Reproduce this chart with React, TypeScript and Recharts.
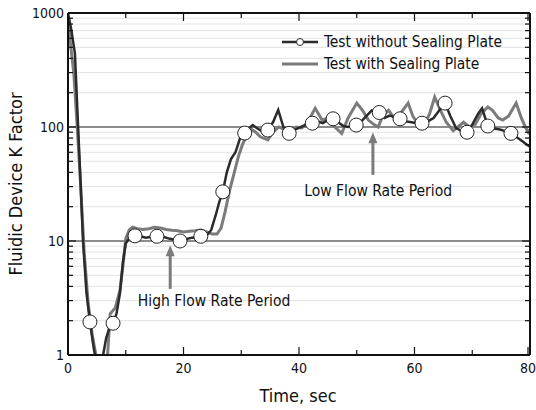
import React from 'react';
import {
  LineChart,
  Line,
  XAxis,
  YAxis,
  CartesianGrid,
  ReferenceLine,
  ReferenceDot,
} from 'recharts';

const FONT = "'DejaVu Sans Condensed', 'DejaVu Sans', sans-serif";

// dark curve, test without sealing plate (time in s, K factor)
const darkTime = [
  0, 0.6, 1.2, 1.6, 2.1, 2.6, 3.2, 4.4, 4.9, 5.5, 6.0, 6.6, 7.2, 8.4, 9.0, 9.5,
  10.0, 10.7, 12.5, 13.5, 14.5, 16.5, 17.5, 18.5, 20.5, 21.5, 24.0, 24.8, 25.6,
  26.2, 27.5, 28.2, 29.0, 29.8, 31.4, 32.0, 32.8, 33.6, 35.5, 36.4, 37.3, 39.3,
  40.3, 41.3, 43.2, 44.1, 45.0, 46.8, 47.7, 48.5, 50.8, 51.7, 52.6, 54.8, 55.7,
  56.6, 58.5, 59.5, 60.4, 62.3, 63.3, 64.3, 66.2, 67.2, 68.2, 70.0, 71.0, 71.7,
  73.8, 74.8, 75.7, 77.6, 78.5, 79.3, 80,
];
const darkK = [
  1000, 700, 440, 150, 40, 10, 3.5, 1.2, 0.85, 0.7, 0.95, 1.4, 1.75, 2.3, 3.5,
  6.5, 9.5, 10.8, 11.0, 10.7, 10.9, 10.9, 10.5, 10.2, 10.4, 10.7, 11.2, 12.5, 17,
  22, 40, 52, 60, 80, 98, 104, 97, 92, 110, 141, 100, 95, 100, 105, 112, 108,
  115, 110, 102, 100, 112, 125, 140, 120, 126, 122, 112, 110, 108, 112, 120, 140,
  125, 98, 92, 105, 130, 146, 97, 95, 92, 82, 76, 71, 67,
];

// circle markers on the dark curve
const markTime = [
  3.8, 7.8, 11.6, 15.4, 19.4, 23.0, 26.8, 30.6, 34.6, 38.3, 42.3, 45.9, 49.9,
  53.9, 57.5, 61.3, 65.3, 69.1, 72.7, 76.7,
];
const markK = [
  1.95, 1.9, 11.1, 11, 10, 11, 27, 88.5, 94, 88, 108, 118, 104, 134, 118, 108,
  162, 90, 102, 88,
];

// gray curve, test with sealing plate
const grayTime = [
  0, 0.4, 1.0, 1.6, 2.2, 2.8, 3.5, 4.2, 5.0, 5.6, 6.2, 6.8, 7.3, 8.2, 9.0, 9.5,
  10.0, 10.6, 11.2, 12.0, 13.0, 14.0, 15.0, 16.0, 17.0, 18.0, 19.0, 20.0, 21.0,
  22.0, 23.0, 24.0, 25.0, 25.8, 26.5, 27.2, 28.0, 28.8, 29.5, 30.2, 31.0, 31.8,
  32.5, 33.3, 34.6, 35.5, 36.5, 37.5, 38.5, 39.5, 40.5, 41.5, 42.8, 44.0, 45.0,
  46.2, 47.4, 48.5, 50.0, 51.0, 52.0, 53.0, 53.7, 54.5, 55.5, 56.5, 57.5, 58.9,
  59.7, 60.4, 61.5, 62.6, 63.5, 64.5, 65.5, 66.7, 67.5, 68.5, 69.5, 70.5, 71.5,
  72.7, 73.5, 74.5, 75.3, 76.3, 77.6, 78.5, 79.2, 79.7, 80,
];
const grayK = [
  900, 550, 300, 100, 30, 8, 2.8, 1.5, 0.9, 0.7, 0.6, 0.9, 2.3, 2.6, 3.7, 6,
  10.5, 12.5, 13.2, 12.8, 12.6, 12.8, 13.2, 13.0, 12.6, 12.4, 12.3, 12.0, 12.2,
  12.3, 12.5, 12.0, 11.5, 11.5, 13, 18, 28, 40, 55, 70, 85, 95, 90, 82, 77, 90,
  100, 95, 92, 100, 98, 110, 146, 115, 120, 100, 88, 120, 162, 140, 115, 105, 100,
  125, 140, 120, 130, 162, 125, 110, 100, 130, 183, 140, 110, 93, 100, 110, 100,
  105, 130, 150, 140, 120, 115, 125, 162, 120, 100, 90, 95,
];

const yTicks = [
  1, 2, 3, 4, 5, 6, 7, 8, 9, 10, 20, 30, 40, 50, 60, 70, 80, 90, 100, 200, 300,
  400, 500, 600, 700, 800, 900, 1000,
];
const yLabels = [1, 10, 100, 1000];
const xTicks = [0, 10, 20, 30, 40, 50, 60, 70, 80];
const xLabels = [0, 20, 40, 60, 80];

const seriesNames = ['Test without Sealing Plate', 'Test with Sealing Plate'];
const DARK = '#2b2b2b';
const GRAY = '#7b7b7b';

const darkData = darkTime
  .map((t, i) => ({ t, k: darkK[i] }))
  .concat(markTime.map((t, i) => ({ t, k: markK[i] })))
  .sort((a, b) => a.t - b.t);
const grayData = grayTime.map((t, i) => ({ t, k: grayK[i] }));
const markData = markTime.map((t, i) => ({ t, k: markK[i] }));

const LeftTick = (props: any) => {
  const { x, y, payload } = props;
  const ax = x + 4;
  const major = yLabels.includes(payload.value);
  return (
    <g>
      <line x1={ax} x2={ax + (major ? 8 : 5)} y1={y} y2={y} stroke="#111" strokeWidth={1.2} />
      {major && (
        <text x={ax - 4} y={y} dy="0.36em" textAnchor="end" fontSize={14} fontFamily={FONT} fill="#111">
          {payload.value}
        </text>
      )}
    </g>
  );
};

const RightTick = (props: any) => {
  const { x, y, payload } = props;
  const ax = x - 4;
  const major = yLabels.includes(payload.value);
  return <line x1={ax} x2={ax - (major ? 8 : 5)} y1={y} y2={y} stroke="#111" strokeWidth={1.2} />;
};

const BottomTick = (props: any) => {
  const { x, y, payload } = props;
  const ay = y - 4;
  const major = xLabels.includes(payload.value);
  return (
    <g>
      <line x1={x} x2={x} y1={ay} y2={ay - (major ? 8 : 5)} stroke="#111" strokeWidth={1.2} />
      {major && (
        <text x={x} y={ay + 18} textAnchor="middle" fontSize={14} fontFamily={FONT} fill="#111">
          {payload.value}
        </text>
      )}
    </g>
  );
};

const TopTick = (props: any) => {
  const { x, y, payload } = props;
  const ay = y + 4;
  const major = xLabels.includes(payload.value);
  return <line x1={x} x2={x} y1={ay} y2={ay + (major ? 8 : 5)} stroke="#111" strokeWidth={1.2} />;
};

const Arrow = (props: any) => {
  const { x1, y1, y2 } = props;
  const top = Math.min(y1, y2);
  const bottom = Math.max(y1, y2);
  return (
    <g>
      <line x1={x1} x2={x1} y1={bottom} y2={top + 10} stroke={GRAY} strokeWidth={3} />
      <polygon points={`${x1 - 4.5},${top + 11} ${x1 + 4.5},${top + 11} ${x1},${top}`} fill={GRAY} />
    </g>
  );
};

const ChartLegend = () => (
  <svg
    width={250}
    height={46}
    style={{ position: 'absolute', left: 278, top: 32, display: 'block' }}
  >
    <line x1={4} x2={40} y1={10} y2={10} stroke={DARK} strokeWidth={2.5} />
    <circle cx={22} cy={10} r={3.5} fill="#fff" stroke={DARK} strokeWidth={1} />
    <text x={46} y={15} fontSize={15.4} fontFamily={FONT} fill="#111">
      {seriesNames[0]}
    </text>
    <line x1={4} x2={40} y1={32} y2={32} stroke={GRAY} strokeWidth={3} />
    <text x={46} y={37} fontSize={15.4} fontFamily={FONT} fill="#111">
      {seriesNames[1]}
    </text>
  </svg>
);

const labelStyle = { fontSize: 15.5, fontFamily: FONT, fill: '#111' };

const App = () => {
  return (
    <div style={{ position: 'absolute', left: 0, top: 0, width: 536, height: 410, background: '#fff', overflow: 'hidden' }}>
      <LineChart
        width={536}
        height={410}
        margin={{ top: 0, right: 0, left: 0, bottom: 0 }}
        style={{ backgroundColor: 'white' }}
      >
        <CartesianGrid vertical={false} stroke="#e2e2e2" strokeWidth={1} />
        <XAxis
          dataKey="t"
          type="number"
          domain={[0, 80]}
          ticks={xTicks}
          allowDataOverflow
          height={55}
          tickSize={0}
          tickMargin={4}
          tickLine={false}
          tick={<BottomTick />}
          axisLine={{ stroke: '#111', strokeWidth: 2 }}
        />
        <XAxis
          xAxisId="top"
          orientation="top"
          dataKey="t"
          type="number"
          domain={[0, 80]}
          ticks={xTicks}
          allowDataOverflow
          height={13}
          tickSize={0}
          tickMargin={4}
          tickLine={false}
          tick={<TopTick />}
          axisLine={{ stroke: '#111', strokeWidth: 2 }}
        />
        <YAxis
          scale="log"
          domain={[1, 1000]}
          ticks={yTicks}
          allowDataOverflow
          width={68}
          tickSize={0}
          tickMargin={4}
          tickLine={false}
          tick={<LeftTick />}
          axisLine={{ stroke: '#111', strokeWidth: 2 }}
          interval={0}
        />
        <YAxis
          yAxisId="right"
          orientation="right"
          scale="log"
          domain={[1, 1000]}
          ticks={yTicks}
          allowDataOverflow
          width={6}
          tickSize={0}
          tickMargin={4}
          tickLine={false}
          tick={<RightTick />}
          axisLine={{ stroke: '#111', strokeWidth: 2 }}
          interval={0}
        />
        <ReferenceLine y={10} stroke="#6a6a6a" strokeWidth={1.5} />
        <ReferenceLine y={100} stroke="#6a6a6a" strokeWidth={1.5} />
        <Line
          data={grayData}
          dataKey="k"
          type="linear"
          stroke={GRAY}
          strokeWidth={3}
          dot={false}
          name={seriesNames[1]}
          isAnimationActive={false}
        />
        <Line
          data={darkData}
          dataKey="k"
          type="linear"
          stroke={DARK}
          strokeWidth={2.5}
          dot={false}
          name={seriesNames[0]}
          isAnimationActive={false}
        />
        <Line
          data={markData}
          dataKey="k"
          stroke="none"
          legendType="none"
          dot={{ r: 7, fill: '#fff', stroke: '#222', strokeWidth: 1 }}
          isAnimationActive={false}
        />
        <ReferenceLine
          segment={[
            { x: 17.7, y: 3.8 },
            { x: 17.7, y: 9.2 },
          ]}
          shape={<Arrow />}
        />
        <ReferenceLine
          segment={[
            { x: 52.8, y: 38 },
            { x: 52.8, y: 90 },
          ]}
          shape={<Arrow />}
        />
        <ReferenceDot
          x={25.3}
          y={3.0}
          r={0}
          stroke="none"
          label={{ value: 'High Flow Rate Period', position: 'center', ...labelStyle }}
        />
        <ReferenceDot
          x={53.7}
          y={28}
          r={0}
          stroke="none"
          label={{ value: 'Low Flow Rate Period', position: 'center', ...labelStyle }}
        />
      </LineChart>
      <ChartLegend />
      <div
        style={{
          position: 'absolute',
          left: 0,
          width: 596,
          top: 385,
          textAlign: 'center',
          fontFamily: FONT,
          fontSize: 18,
          color: '#111',
        }}
      >
        Time, sec
      </div>
      <div
        style={{
          position: 'absolute',
          left: 15,
          top: 184,
          transform: 'translate(-50%, -50%) rotate(-90deg)',
          whiteSpace: 'nowrap',
          fontFamily: FONT,
          fontSize: 18,
          color: '#111',
        }}
      >
        Fluidic Device K Factor
      </div>
    </div>
  );
};

export default App;
